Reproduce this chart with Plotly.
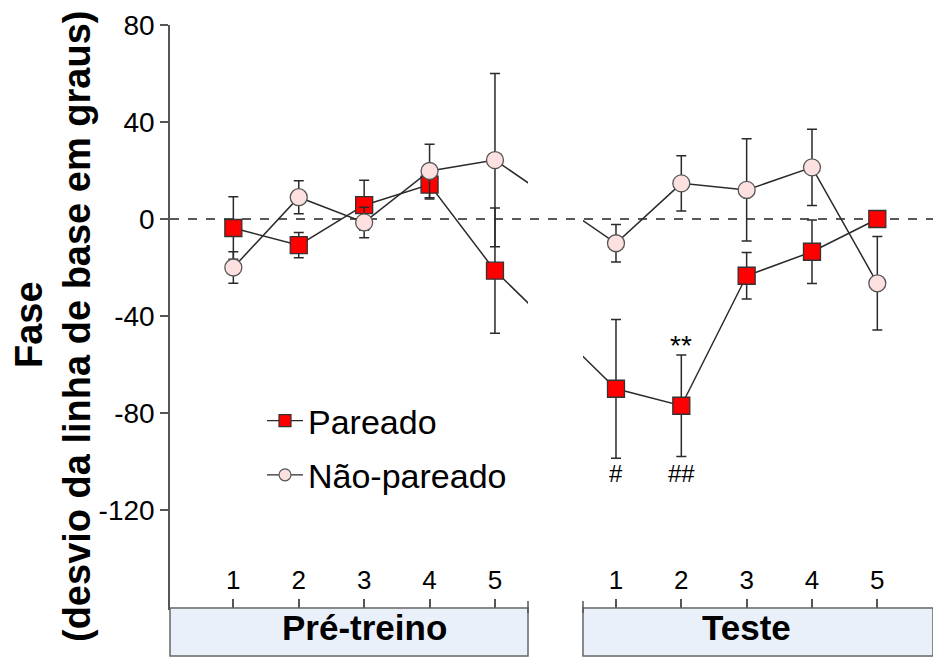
import plotly.graph_objects as go

# Sessions within each phase
sessions = [1, 2, 3, 4, 5]
session_labels = ["1", "2", "3", "4", "5"]
phase_labels = ["Pré-treino", "Teste"]
y_ticks = [-120, -80, -40, 0, 40, 80]
y_tick_labels = ["-120", "-80", "-40", "0", "40", "80"]

# Phase shift (degrees from baseline), mean and error per session
paired_pre = [-3.7, -10.8, 5.7, 14.2, -21.3]
paired_pre_err = [12.9, 5.2, 10.3, 6.0, 25.8]
paired_test = [-70.0, -77.0, -23.4, -13.5, 0.0]
paired_test_err = [28.6, 20.9, 9.6, 13.1, 3.0]

unpaired_pre = [-20.0, 9.0, -1.4, 19.8, 24.3]
unpaired_pre_err = [6.5, 6.8, 6.3, 11.0, 35.7]
unpaired_test = [-10.0, 14.7, 12.0, 21.3, -26.5]
unpaired_test_err = [7.7, 11.4, 21.1, 15.7, 19.3]

# Broken x axis: the test phase continues after a gap
GAP = 1.852
pre_x = [s for s in sessions]
test_x = [s + 4 + GAP for s in sessions]
all_x = pre_x + test_x

FONT = "Liberation Sans, Arial, sans-serif"
LINE_C = "#2a2a2a"
AXIS_C = "#555555"

W, H = 933, 658
ML, MR, MT, MB = 170, 0, 25, 50
pw = W - ML - MR
ph = H - MT - MB


def px_x(p):
    return (p - ML) / pw


def px_y(p):
    return (H - MB - p) / ph


dom1 = [0, px_x(528)]
dom2 = [px_x(583), 1]
unit = 65.35
range1 = [1 - (233.3 - 170) / unit, 5 + (528 - 495) / unit]
range2 = [test_x[0] - (616 - 583) / unit, test_x[-1] + (933 - 877.3) / unit]

series = [
    dict(name="Pareado", y=paired_pre + paired_test, e=paired_pre_err + paired_test_err,
         symbol="square", color="#ff0000", lc="#333333", size=17),
    dict(name="Não-pareado", y=unpaired_pre + unpaired_test, e=unpaired_pre_err + unpaired_test_err,
         symbol="circle", color="#fde0e0", lc="#555555", size=17),
]

fig = go.Figure()
for s in series:
    for xa in ["x", "x2"]:
        fig.add_trace(go.Scatter(
            x=all_x, y=s["y"], xaxis=xa, yaxis="y",
            mode="lines+markers", name=s["name"], showlegend=False,
            line=dict(color=LINE_C, width=1.5),
            marker=dict(symbol=s["symbol"], size=s["size"], color=s["color"],
                        line=dict(color=s["lc"], width=1.3)),
            error_y=dict(type="data", array=s["e"], visible=True,
                         color=LINE_C, thickness=1.5, width=5),
        ))
# legend keys with smaller symbols
for s in series:
    fig.add_trace(go.Scatter(
        x=[None], y=[None], mode="lines+markers", name=s["name"],
        legendgroup=s["name"], showlegend=True,
        line=dict(color=LINE_C, width=1.2),
        marker=dict(symbol=s["symbol"], size=12, color=s["color"],
                    line=dict(color=s["lc"], width=1.2)),
    ))

axis_common = dict(showline=True, linecolor=AXIS_C, linewidth=1.5, showgrid=False,
                   zeroline=False, ticks="inside", ticklen=9, tickwidth=1.5,
                   tickcolor=AXIS_C, ticklabelposition="inside", ticklabelstandoff=7,
                   tickfont=dict(family=FONT, size=26, color="black"))

fig.update_layout(
    width=W, height=H,
    margin=dict(l=ML, r=MR, t=MT, b=MB, autoexpand=False),
    paper_bgcolor="white", plot_bgcolor="white",
    showlegend=True,
    legend=dict(x=px_x(262), y=px_y(392), xanchor="left", yanchor="top",
                font=dict(family=FONT, size=34, color="black"),
                bgcolor="rgba(0,0,0,0)", itemwidth=36,
                traceorder="grouped", tracegroupgap=7),
    xaxis=dict(domain=dom1, range=range1, tickvals=pre_x, ticktext=session_labels,
               anchor="y", **axis_common),
    xaxis2=dict(domain=dom2, range=range2, tickvals=test_x, ticktext=session_labels,
                anchor="y", **axis_common),
    yaxis=dict(range=[-160.4, 80], tickvals=y_ticks, ticktext=y_tick_labels,
               showline=True, linecolor=AXIS_C, linewidth=1.5, showgrid=False,
               zeroline=False, ticks="outside", ticklen=8, tickwidth=1.5,
               tickcolor=AXIS_C, anchor="x",
               tickfont=dict(family=FONT, size=28, color="black")),
)

shapes = [
    # dashed baseline across the whole plot
    dict(type="line", xref="paper", x0=0, x1=1, yref="y", y0=0, y1=0,
         line=dict(color="#222222", width=1.5, dash="dash"), layer="below"),
]
# phase boxes under each axis segment
for xr in ["x domain", "x2 domain"]:
    shapes.append(dict(type="rect", xref=xr, x0=0, x1=1, yref="paper",
                       y0=px_y(656), y1=px_y(608),
                       fillcolor="#eaf0fa", line=dict(color="#666666", width=1.5)))
# break marks at the ends of the axis segments
for xr, xv in [("x domain", 1), ("x2 domain", 0)]:
    shapes.append(dict(type="line", xref=xr, x0=xv, x1=xv, yref="paper",
                       y0=px_y(613), y1=px_y(601),
                       line=dict(color=AXIS_C, width=1.5)))
fig.update_layout(shapes=shapes)

annotations = [
    dict(text="<b>Fase</b>", xref="paper", yref="paper", x=px_x(29), y=px_y(325),
         textangle=-90, showarrow=False, xanchor="center", yanchor="middle",
         font=dict(family=FONT, size=38, color="black")),
    dict(text="<b>(desvio da linha de base em graus)</b>", xref="paper", yref="paper",
         x=px_x(77), y=px_y(327), textangle=-90, showarrow=False,
         xanchor="center", yanchor="middle",
         font=dict(family=FONT, size=38, color="black")),
    dict(text="<b>%s</b>" % phase_labels[0], xref="x", yref="paper", x=pre_x[2],
         y=px_y(627), showarrow=False, xanchor="center", yanchor="middle",
         font=dict(family=FONT, size=35, color="black")),
    dict(text="<b>%s</b>" % phase_labels[1], xref="x2", yref="paper", x=test_x[2],
         y=px_y(627), showarrow=False, xanchor="center", yanchor="middle",
         font=dict(family=FONT, size=35, color="black")),
    dict(text="**", xref="x2", yref="y", x=test_x[1], y=-52, showarrow=False,
         xanchor="center", yanchor="middle",
         font=dict(family=FONT, size=28, color="black")),
    dict(text="#", xref="x2", yref="y", x=test_x[0], y=-105, showarrow=False,
         xanchor="center", yanchor="middle",
         font=dict(family=FONT, size=24, color="black")),
    dict(text="##", xref="x2", yref="y", x=test_x[1], y=-105, showarrow=False,
         xanchor="center", yanchor="middle",
         font=dict(family=FONT, size=24, color="black")),
]
fig.update_layout(annotations=annotations)

fig.write_html("out.html")
